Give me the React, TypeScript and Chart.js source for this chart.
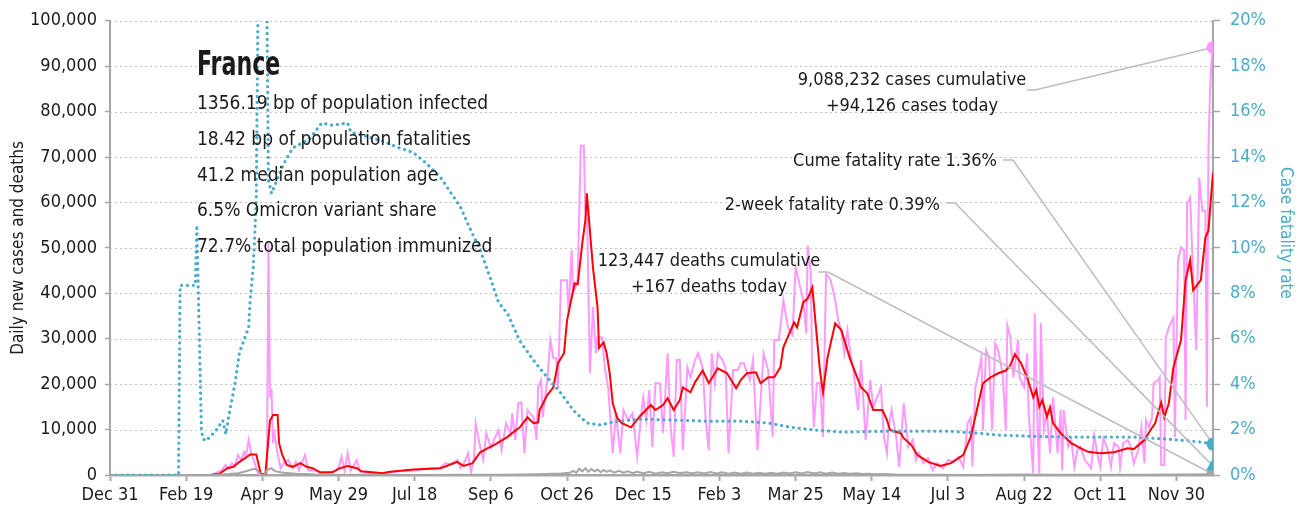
import React, { useEffect, useRef } from "react";
import { Chart, registerables } from "chart.js";

Chart.register(...registerables);

const FONT = "'DejaVu Sans Condensed', 'Liberation Sans Narrow', 'Arial Narrow', sans-serif";

const tickLabels = [
  "Dec 31", "Feb 19", "Apr 9", "May 29", "Jul 18", "Sep 6", "Oct 26", "Dec 15",
  "Feb 3", "Mar 25", "May 14", "Jul 3", "Aug 22", "Oct 11", "Nov 30",
];
const tickStepDays = 50;

const lastDay = 724;

// [day since Dec 31 2019, daily new cases]
const dailyCases: [number, number][] = [
  [0, 0], [56, 0], [66, 0], [70, 500], [73, 1000], [76, 2200], [78, 1500], [80, 2600], [82, 2000],
  [84, 4400], [86, 3300], [88, 5000], [89, 4000], [90, 5500], [91, 7700], [93, 4400], [95, 2600],
  [97, 500], [98, 0], [102, 0], [103, 500], [104, 51000], [105, 17000], [106, 19000], [107, 7000],
  [108, 9000], [110, 4800], [112, 1500], [114, 2600], [117, 3300], [120, 1500], [122, 2900],
  [124, 1000], [128, 4400], [130, 1000], [135, 1000], [138, 400], [145, 500], [150, 1500],
  [152, 4000], [154, 1000], [156, 4800], [158, 1000], [162, 3300], [164, 800], [170, 400],
  [180, 500], [190, 800], [200, 1000], [210, 1500], [216, 1500], [220, 2600], [224, 2400],
  [228, 3300], [230, 1500], [233, 3000], [235, 4800], [237, 500], [239, 4000], [240, 11400],
  [242, 7700], [245, 3300], [247, 9200], [250, 6000], [252, 7700], [255, 9900], [257, 5500],
  [260, 11400], [263, 9000], [264, 13600], [266, 7700], [268, 15800], [270, 16000], [272, 4800],
  [274, 14300], [278, 12700], [280, 7700], [281, 19300], [283, 20900], [284, 12700], [287, 20900],
  [289, 29700], [291, 25700], [293, 25700], [294, 19000], [296, 42900], [298, 42900], [300, 42900],
  [301, 35600], [303, 49500], [304, 40000], [307, 42900], [309, 72500], [311, 72500], [312, 58000],
  [313, 60400], [315, 22400], [317, 37000], [319, 26800], [320, 30300], [323, 30300], [325, 23000],
  [327, 19300], [330, 4800], [332, 13600], [335, 4800], [337, 14300], [340, 12100], [343, 13600],
  [346, 4000], [349, 14300], [350, 17100], [352, 12100], [354, 18700], [356, 6200], [358, 20200],
  [361, 20200], [363, 9200], [366, 26800], [368, 10500], [370, 4000], [372, 25300], [374, 25300],
  [376, 5500], [379, 23700], [381, 21500], [384, 25300], [386, 26800], [389, 23700], [391, 12100],
  [393, 5500], [395, 26800], [397, 20200], [399, 26800], [402, 25300], [404, 23700], [406, 4800],
  [409, 23100], [412, 23100], [414, 24600], [416, 24600], [420, 20900], [422, 25300], [425, 5500],
  [429, 26800], [432, 23100], [435, 8400], [436, 29700], [439, 29700], [442, 38500], [445, 32500],
  [448, 30800], [450, 45700], [452, 42900], [455, 38500], [457, 31200], [458, 50500], [460, 44400],
  [461, 20200], [462, 10500], [464, 20200], [466, 20200], [468, 8400], [470, 44400], [473, 42900],
  [476, 38500], [478, 34000], [480, 31900], [482, 26800], [484, 31900], [486, 26800], [488, 23100],
  [491, 14300], [493, 25300], [496, 7700], [499, 20900], [501, 14900], [506, 19300], [508, 8400],
  [510, 4800], [511, 10500], [513, 14300], [516, 8500], [518, 1800], [521, 15800], [524, 6200],
  [527, 7700], [529, 3300], [531, 4800], [534, 2600], [537, 3700], [540, 1100], [543, 2600],
  [547, 1500], [550, 3300], [554, 2900], [557, 4000], [560, 1800], [563, 11400], [565, 12700],
  [566, 1800], [568, 19300], [570, 22400], [572, 25900], [573, 9900], [575, 27500], [577, 25900],
  [579, 9900], [581, 29000], [583, 27500], [586, 22000], [588, 9900], [589, 33000], [591, 30300],
  [593, 21500], [596, 29700], [597, 21500], [600, 19300], [602, 26800], [603, 13600], [606, 400],
  [607, 35600], [609, 8500], [610, 400], [611, 33400], [613, 9900], [615, 13600], [617, 4800],
  [619, 17100], [622, 4800], [624, 14300], [625, 1100], [626, 14300], [629, 6200], [631, 7700],
  [633, 1800], [635, 5500], [637, 6200], [640, 3300], [644, 1500], [646, 8800], [648, 4800],
  [650, 1800], [652, 8100], [655, 5500], [657, 1800], [659, 7000], [662, 6200], [663, 1800],
  [665, 7000], [668, 7700], [670, 6200], [672, 2600], [675, 5500], [677, 10500], [679, 2600],
  [680, 12100], [682, 10500], [684, 12700], [685, 20200], [688, 20900], [689, 21500], [690, 2200],
  [692, 2200], [693, 30300], [695, 32500], [698, 34700], [699, 8300], [701, 47300], [703, 50100],
  [705, 49500], [706, 12100], [707, 59800], [709, 61100], [711, 43500], [713, 27500], [715, 65500],
  [717, 58200], [719, 58200], [720, 15000], [721, 72000], [722, 84000], [723, 91000], [724, 94126],
];

// [day, 7-day average of new cases]
const avgCases: [number, number][] = [
  [0, 0], [66, 0], [72, 300], [77, 1500], [81, 1800], [85, 2900], [89, 3800], [92, 4500], [96, 4500],
  [99, 200], [102, 200], [104, 8000], [105, 12000], [107, 13200], [110, 13200], [111, 7000],
  [113, 4500], [116, 2200], [120, 1800], [125, 2600], [129, 1800], [133, 1500], [138, 600],
  [146, 600], [151, 1500], [156, 2000], [162, 1500], [165, 800], [179, 400], [184, 700],
  [199, 1200], [210, 1400], [217, 1500], [228, 2900], [232, 2000], [238, 2600], [243, 5000],
  [248, 5900], [252, 6600], [261, 8400], [265, 9500], [269, 10500], [274, 12700], [278, 11400],
  [281, 11600], [282, 14300], [287, 17600], [291, 19300], [294, 24600], [298, 26800], [300, 34000],
  [303, 39000], [305, 42200], [307, 42000], [310, 51000], [312, 56000], [313, 62000], [315, 53800],
  [317, 45700], [320, 37000], [321, 28000], [324, 29200], [326, 26800], [328, 22400], [330, 15800],
  [333, 12500], [336, 11400], [342, 10500], [348, 13000], [355, 15400], [358, 14300], [363, 15400],
  [366, 16900], [370, 14300], [374, 16500], [376, 19300], [381, 18200], [384, 20400], [389, 23000],
  [393, 20200], [399, 23500], [405, 22400], [411, 19100], [414, 20900], [418, 22400], [424, 22600],
  [427, 20200], [432, 21500], [436, 21500], [440, 23700], [442, 28100], [449, 33600], [451, 32500],
  [455, 38000], [458, 38900], [461, 41300], [463, 34000], [466, 23000], [468, 18200], [471, 25900],
  [476, 33400], [480, 31900], [486, 25300], [493, 19300], [497, 18000], [501, 14300], [507, 14300],
  [510, 12100], [512, 9900], [519, 9200], [521, 8100], [526, 6600], [530, 4400], [537, 2900],
  [545, 2000], [552, 2600], [560, 4400], [565, 8400], [569, 14300], [573, 20200], [578, 21500],
  [583, 22400], [588, 23000], [591, 24200], [594, 26600], [598, 24600], [602, 21500], [606, 17100],
  [608, 18700], [610, 15000], [612, 16500], [615, 12800], [617, 14900], [619, 11400], [624, 9200],
  [631, 7000], [637, 5900], [642, 5100], [650, 4800], [659, 5000], [668, 5900], [672, 5700],
  [679, 7700], [683, 9900], [686, 11400], [690, 16000], [692, 12700], [695, 15800], [698, 23700],
  [703, 29700], [706, 42900], [709, 47300], [711, 40700], [716, 42900], [719, 52300], [721, 53800],
  [724, 66600],
];

// [day, daily deaths]
const dailyDeaths: [number, number][] = [
  [0, 0], [45, 0], [60, 20], [70, 50], [78, 200], [84, 400], [88, 700], [92, 1100], [95, 1400],
  [97, 1000], [99, 100], [101, 50], [103, 1100], [106, 1500], [108, 900], [110, 700], [114, 500],
  [118, 400], [122, 300], [128, 200], [135, 100], [145, 60], [160, 30], [200, 20], [240, 40],
  [260, 80], [280, 150], [290, 250], [296, 350], [300, 450], [302, 500], [304, 900], [306, 500],
  [308, 1400], [310, 800], [312, 1500], [314, 700], [316, 1300], [318, 800], [320, 1200],
  [322, 600], [324, 1100], [326, 700], [328, 1000], [331, 500], [334, 900], [337, 500], [340, 800],
  [343, 400], [346, 700], [350, 400], [354, 700], [358, 300], [362, 600], [366, 400], [370, 700],
  [374, 400], [378, 600], [382, 400], [386, 600], [390, 350], [394, 650], [398, 350], [402, 600],
  [406, 300], [410, 550], [414, 300], [418, 550], [422, 300], [426, 500], [430, 300], [434, 500],
  [438, 300], [442, 550], [446, 350], [450, 600], [454, 350], [458, 650], [462, 350], [466, 600],
  [470, 300], [474, 550], [478, 300], [482, 450], [486, 250], [490, 400], [494, 200], [498, 300],
  [502, 150], [508, 200], [515, 100], [525, 80], [540, 40], [560, 20], [580, 60], [600, 120],
  [620, 80], [640, 40], [660, 40], [680, 60], [700, 100], [724, 167],
];

// [day, case fatality rate %]
const fatalityRate: [number, number][] = [
  [0, 0], [45, 0], [46, 8.35], [56, 8.35], [57, 11.0], [58, 8.0], [59, 5.0], [60, 2.0], [61, 1.6],
  [63, 1.5], [66, 1.7], [70, 2.0], [74, 2.4], [76, 1.8], [78, 2.6], [82, 4.0], [85, 5.4], [91, 6.5],
  [92, 7.7], [94, 9.1], [95, 10.6], [96, 12.1], [97, 19.4], [98, 30], [102, 30], [103, 20.5],
  [104, 13.0], [106, 12.4], [114, 13.7], [120, 14.4], [131, 14.8], [139, 15.5], [146, 15.4],
  [156, 15.5], [158, 15.1], [169, 14.9], [179, 14.7], [190, 14.4], [199, 14.2], [208, 13.7],
  [217, 13.1], [223, 12.5], [230, 11.8], [236, 10.9], [243, 9.9], [250, 8.6], [255, 7.6],
  [261, 7.1], [269, 5.9], [278, 5.05], [287, 4.3], [296, 3.6], [304, 2.86], [313, 2.29],
  [322, 2.2], [330, 2.33], [348, 2.46], [370, 2.42], [392, 2.37], [414, 2.37], [432, 2.29],
  [447, 2.1], [462, 1.98], [480, 1.89], [510, 1.93], [550, 1.93], [567, 1.85], [583, 1.76],
  [604, 1.71], [626, 1.67], [650, 1.67], [672, 1.67], [694, 1.58], [716, 1.45], [724, 1.36],
];

const casesToday = 94126;
const cumeCases = 9088232;
const deathsToday = 167;
const cumeDeaths = 123447;
const cumeFatality = 1.36;
const twoWeekFatality = 0.39;

const countryName = "France";
const statLines = [
  "1356.19 bp of population infected",
  "18.42 bp of population fatalities",
  "41.2 median population age",
  "6.5% Omicron variant share",
  "72.7% total population immunized",
];
const rightTitle = "Case fatality rate";

const PINK = "#ff99ff";
const RED = "#ff0000";
const GRAY = "#a6a6a6";
const TEAL = "#4bacc6";
const TEXT = "#1a1a1a";

const fmt = (n: number) => n.toLocaleString("en-US");
const pts = (arr: [number, number][]) => arr.map(([x, y]) => ({ x, y }));

const overlayPlugin = {
  id: "overlay",
  beforeDatasetsDraw(chart: any) {
    const { ctx, chartArea, scales } = chart;
    const y = scales.y;
    ctx.save();
    ctx.strokeStyle = "#c4c4c4";
    ctx.lineWidth = 1;
    ctx.setLineDash([2, 3]);
    y.ticks.forEach((t: any) => {
      if (t.value === 0) return;
      const py = Math.round(y.getPixelForValue(t.value)) + 0.5;
      ctx.beginPath();
      ctx.moveTo(chartArea.left, py);
      ctx.lineTo(chartArea.right, py);
      ctx.stroke();
    });
    ctx.restore();
  },
  afterDatasetDraw(chart: any, args: any) {
    if (chart.data.datasets[args.index].label !== "cfr") return;
    const { ctx, scales } = chart;
    const xs = scales.x, y = scales.y, y1 = scales.y1;
    const ex = xs.getPixelForValue(lastDay);
    const leaders: [number, number, number, number][] = [
      [1027, 90, y.getPixelForValue(casesToday), 8],
      [1003, 160, y1.getPixelForValue(cumeFatality), 10],
      [947, 203, y1.getPixelForValue(twoWeekFatality), 8],
      [818, 272, y.getPixelForValue(deathsToday), 10],
    ];
    ctx.save();
    ctx.strokeStyle = "#bdbdbd";
    ctx.lineWidth = 1.5;
    leaders.forEach(([lx, ly, ty, h]) => {
      ctx.beginPath();
      ctx.moveTo(lx, ly);
      ctx.lineTo(lx + h, ly);
      ctx.lineTo(ex, ty);
      ctx.stroke();
    });
    ctx.restore();
  },
  afterDatasetsDraw(chart: any) {
    const { ctx } = chart;
    ctx.save();
    ctx.fillStyle = TEXT;
    ctx.textBaseline = "middle";
    ctx.textAlign = "left";
    ctx.save();
    ctx.translate(197, 66);
    ctx.scale(0.82, 1.1);
    ctx.font = `bold 30px ${FONT}`;
    ctx.fillText(countryName, 0, 0);
    ctx.restore();
    ctx.font = `19px ${FONT}`;
    statLines.forEach((s, i) => ctx.fillText(s, 197, 104 + i * 35.8));
    ctx.font = `18px ${FONT}`;
    ctx.textAlign = "center";
    ctx.fillText(`${fmt(cumeCases)} cases cumulative`, 912, 80);
    ctx.fillText(`+${fmt(casesToday)} cases today`, 912, 106);
    ctx.fillText(`${fmt(cumeDeaths)} deaths cumulative`, 709, 261);
    ctx.fillText(`+${fmt(deathsToday)} deaths today`, 709, 287);
    ctx.textAlign = "right";
    ctx.fillText(`Cume fatality rate ${cumeFatality.toFixed(2)}%`, 997, 161);
    ctx.fillText(`2-week fatality rate ${twoWeekFatality.toFixed(2)}%`, 940, 205);
    // right axis title
    ctx.save();
    ctx.translate(1285, 233);
    ctx.rotate(Math.PI / 2);
    ctx.textAlign = "center";
    ctx.fillStyle = TEAL;
    ctx.font = `17px ${FONT}`;
    ctx.fillText(rightTitle, 0, 0);
    ctx.restore();
    ctx.restore();
  },
};

export default function App() {
  const ref = useRef<HTMLCanvasElement | null>(null);

  useEffect(() => {
    document.body.style.margin = "0";
    if (!ref.current) return;
    const tickFont = { family: FONT, size: 18 };
    const chart = new Chart(ref.current, {
      type: "line",
      data: {
        datasets: [
          {
            label: "cases", data: pts(dailyCases), borderColor: PINK, borderWidth: 2,
            pointRadius: 0, yAxisID: "y", order: 6,
          },
          {
            label: "avg", data: pts(avgCases), borderColor: RED, borderWidth: 2,
            pointRadius: 0, yAxisID: "y", order: 5,
          },
          {
            label: "deaths", data: pts(dailyDeaths), borderColor: GRAY, borderWidth: 2,
            pointRadius: 0, yAxisID: "y", order: 4,
          },
          {
            label: "cfr", data: pts(fatalityRate), borderColor: TEAL, borderWidth: 3.2,
            borderDash: [0.1, 5.8], borderCapStyle: "round", pointRadius: 0, yAxisID: "y1", order: 3,
          },
          {
            label: "m1", data: [{ x: lastDay, y: casesToday }], showLine: false, pointRadius: 6.5,
            pointBackgroundColor: PINK, pointBorderWidth: 0, yAxisID: "y", order: 1,
          },
          {
            label: "m2", data: [{ x: lastDay, y: cumeFatality }], showLine: false, pointRadius: 6.5,
            pointBackgroundColor: TEAL, pointBorderWidth: 0, yAxisID: "y1", order: 1,
          },
          {
            label: "m3", data: [{ x: lastDay, y: twoWeekFatality }], showLine: false, pointRadius: 8,
            pointStyle: "triangle", pointBackgroundColor: TEAL, pointBorderWidth: 0, yAxisID: "y1", order: 1,
          },
          {
            label: "m4", data: [{ x: lastDay, y: deathsToday }], showLine: false, pointRadius: 6.5,
            pointBackgroundColor: GRAY, pointBorderWidth: 0, yAxisID: "y", order: 1,
          },
        ],
      } as any,
      options: {
        responsive: true,
        maintainAspectRatio: false,
        animation: false,
        layout: { padding: { top: 20, left: 0, right: 0, bottom: 0 } },
        plugins: { legend: { display: false }, tooltip: { enabled: false } },
        elements: { line: { tension: 0 } },
        scales: {
          x: {
            type: "linear", min: 0, max: lastDay,
            afterBuildTicks: (s: any) => {
              s.ticks = tickLabels.map((_, i) => ({ value: i * tickStepDays }));
            },
            afterFit: (s: any) => { s.height = 38; },
            ticks: {
              autoSkip: false, maxRotation: 0, minRotation: 0,
              callback: (v: any) => tickLabels[Math.round(v / tickStepDays)] ?? "",
              font: tickFont, color: TEXT, padding: 4,
            },
            grid: { drawOnChartArea: false, drawTicks: true, tickLength: 6, tickColor: GRAY, tickWidth: 2 },
            border: { display: true, color: GRAY, width: 2.5 },
          },
          y: {
            position: "left", min: 0, max: 100000,
            afterFit: (s: any) => { s.width = 110; },
            ticks: { stepSize: 10000, callback: (v: any) => fmt(Number(v)), font: tickFont, color: TEXT, padding: 8 },
            grid: { drawOnChartArea: false, drawTicks: true, tickLength: 5, tickColor: GRAY, tickWidth: 1.5 },
            border: { display: true, color: GRAY, width: 2 },
            title: {
              display: true, text: "Daily new cases and deaths", color: TEXT,
              font: { family: FONT, size: 17 }, padding: { top: 8, bottom: 0 },
            },
          },
          y1: {
            position: "right", min: 0, max: 20,
            afterFit: (s: any) => { s.width = 88; },
            ticks: { stepSize: 2, callback: (v: any) => `${v}%`, font: tickFont, color: TEAL, padding: 10 },
            grid: { drawOnChartArea: false, drawTicks: true, tickLength: 7, tickColor: GRAY, tickWidth: 1.5 },
            border: { display: true, color: GRAY, width: 2 },
          },
        },
      } as any,
      plugins: [overlayPlugin],
    });
    return () => chart.destroy();
  }, []);

  return (
    <div style={{ position: "relative", width: "1301px", height: "513px" }}>
      <canvas ref={ref} style={{ display: "block" }} />
    </div>
  );
}
